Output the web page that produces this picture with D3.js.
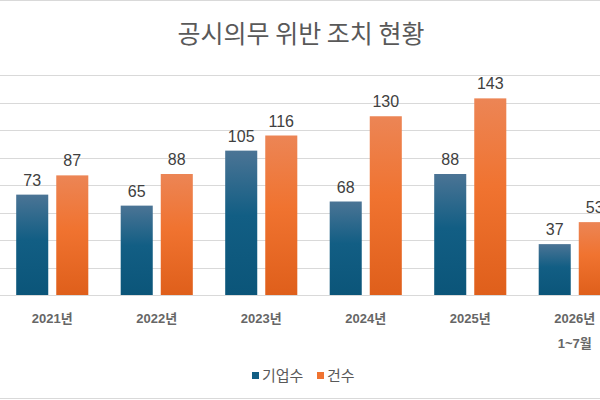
<!DOCTYPE html>
<html>
<head>
<meta charset="utf-8">
<script src="https://cdn.jsdelivr.net/npm/d3@7"></script>
<style>
  html, body { margin: 0; padding: 0; background: #fff; }
  svg { display: block; font-family: "Liberation Sans", Arial, "Noto Sans CJK KR", sans-serif; }
</style>
</head>
<body>
<div id="chart"></div>
<script>
// 연도별 카테고리 (줄바꿈은 \n)
const categories = ['2021년', '2022년', '2023년', '2024년', '2025년', '2026년\n1~7월'];
const seriesNames = ['기업수', '건수'];
// 기업수
const companies = [73, 65, 105, 68, 88, 37];
// 건수
const cases = [87, 88, 116, 130, 143, 53];
const yTicks = [0, 20, 40, 60, 80, 100, 120, 140, 160];

const width = 600, height = 400;
const plot = { left: 0, right: 627, top: 75, bottom: 295 };

const svg = d3.select('#chart')
  .append('svg')
  .attr('width', width)
  .attr('height', height);

// 바 그라데이션
const defs = svg.append('defs');
const grads = [
  ['g0', [['0%', '#4b7495'], ['45%', '#125e84'], ['100%', '#0b5579']]],
  ['g1', [['0%', '#ec8555'], ['45%', '#f07330'], ['100%', '#df5f1b']]],
];
grads.forEach(([id, stops]) => {
  const g = defs.append('linearGradient').attr('id', id)
    .attr('x1', 0).attr('y1', 0).attr('x2', 0).attr('y2', 1);
  stops.forEach(([o, c]) => g.append('stop').attr('offset', o).attr('stop-color', c));
});

// 테두리
svg.append('line').attr('x1', 0).attr('x2', width).attr('y1', 0.5).attr('y2', 0.5)
  .attr('stroke', '#d9d9d9');
svg.append('line').attr('x1', 0).attr('x2', width).attr('y1', 398.5).attr('y2', 398.5)
  .attr('stroke', '#d9d9d9');

const x = d3.scaleBand()
  .domain(categories)
  .range([plot.left, plot.right])
  .paddingInner(0.31)
  .paddingOuter(0.155);

const xSub = d3.scaleBand()
  .domain(seriesNames)
  .range([0, x.bandwidth()])
  .paddingInner(0.2);

const y = d3.scaleLinear().domain([0, 160]).range([plot.bottom, plot.top]);

// 그리드
svg.append('g')
  .selectAll('line')
  .data(yTicks)
  .join('line')
  .attr('x1', 0)
  .attr('x2', width)
  .attr('y1', (d) => Math.round(y(d)) + 0.5)
  .attr('y2', (d) => Math.round(y(d)) + 0.5)
  .attr('stroke', '#d9d9d9')
  .attr('stroke-width', 1);

// 제목
svg.append('text')
  .attr('x', 301)
  .attr('y', 43)
  .attr('text-anchor', 'middle')
  .style('font-family', '"Noto Sans CJK KR", sans-serif')
  .style('font-size', '25px')
  .attr('fill', '#595959')
  .text('공시의무 위반 조치 현황');

const rows = categories.map((c, i) => ({ cat: c, values: [companies[i], cases[i]] }));

const groups = svg.append('g')
  .selectAll('g')
  .data(rows)
  .join('g')
  .attr('transform', (d) => `translate(${x(d.cat)},0)`);

groups.selectAll('rect')
  .data((d) => d.values.map((v, j) => ({ name: seriesNames[j], v, j })))
  .join('rect')
  .attr('x', (d) => xSub(d.name))
  .attr('width', xSub.bandwidth())
  .attr('y', (d) => y(d.v))
  .attr('height', (d) => y(0) - y(d.v))
  .attr('fill', (d) => `url(#g${d.j})`);

// 데이터 레이블
groups.selectAll('text.val')
  .data((d) => d.values.map((v, j) => ({ name: seriesNames[j], v })))
  .join('text')
  .attr('class', 'val')
  .attr('x', (d) => xSub(d.name) + xSub.bandwidth() / 2)
  .attr('y', (d) => y(d.v) - 9)
  .attr('text-anchor', 'middle')
  .style('font-size', '16px')
  .attr('fill', '#404040')
  .text((d) => d.v);

// x축 레이블
const xl = svg.append('g')
  .selectAll('text')
  .data(categories)
  .join('text')
  .attr('x', (d) => x(d) + x.bandwidth() / 2)
  .attr('y', 323)
  .attr('text-anchor', 'middle')
  .style('font-size', '13px')
  .style('font-weight', 'bold')
  .attr('fill', '#666666');
xl.selectAll('tspan')
  .data((d) => d.split('\n'))
  .join('tspan')
  .attr('x', function () { return d3.select(this.parentNode).attr('x'); })
  .attr('dy', (d, i) => (i === 0 ? 0 : 25))
  .text((d) => d);

// 범례
const colors = ['#125e84', '#f07330'];
const legendX = [252, 317];
const lg = svg.append('g')
  .selectAll('g')
  .data(seriesNames)
  .join('g')
  .attr('transform', (d, i) => `translate(${legendX[i]},372)`);
lg.append('rect')
  .attr('width', 7).attr('height', 7)
  .attr('fill', (d, i) => colors[i]);
lg.append('text')
  .attr('x', 10).attr('y', 9)
  .style('font-family', '"Noto Sans CJK KR", sans-serif')
  .style('font-size', '15px')
  .attr('fill', '#595959')
  .text((d) => d);
</script>
</body>
</html>
